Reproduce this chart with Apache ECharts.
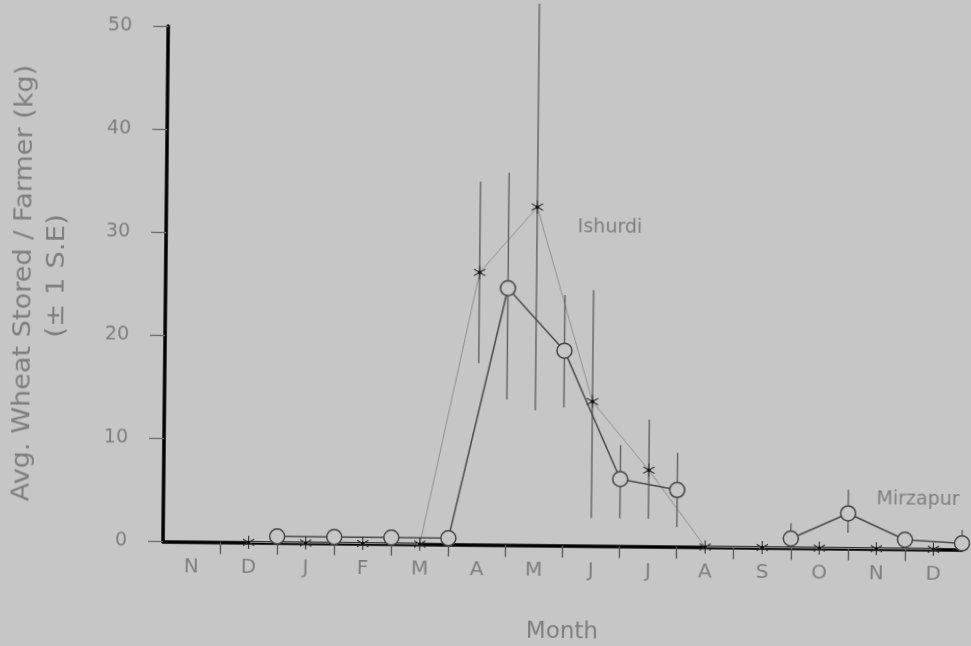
<!DOCTYPE html>
<html>
<head>
<meta charset="utf-8">
<script src="https://cdn.jsdelivr.net/npm/echarts@6/dist/echarts.min.js"></script>
<style>
html,body{margin:0;padding:0;background:#c6c6c6;overflow:hidden;}
#chart{width:971px;height:646px;transform-origin:163px 541.5px;transform:rotate(0.58deg);}
</style>
</head>
<body>
<div id="chart"></div>
<script>
// ---- data ----
const months = ['N','D','J','F','M','A','M','J','J','A','S','O','N','D'];
const yTicks = [0, 10, 20, 30, 40, 50];
// Ishurdi (asterisks) - one value per month, plotted at mid-month
const ishurdiMean = [null, 0, 0, 0, 0, 26.4, 32.8, 14.0, 7.4, 0, 0, 0, 0, 0];
const ishurdiLow  = [null, null, null, null, null, 17.6, 13.1, 2.7, 2.7, null, null, null, null, null];
const ishurdiHigh = [null, null, null, null, null, 35.2, 53.0, 24.8, 12.3, null, null, null, null, null];
// Mirzapur (circles) - values at month boundaries 0..14
const mirzapurMean = [null, null, 0.6, 0.6, 0.6, 0.6, 24.9, 18.9, 6.5, 5.5, null, 0.9, 3.4, 0.9, 0.6];
const mirzapurLow  = [null, null, null, null, null, null, 14.1, 13.4, 2.7, 1.9, null, 0, 1.5, 0, 0];
const mirzapurHigh = [null, null, null, null, null, null, 36.1, 24.3, 9.8, 9.1, null, 2.4, 5.7, 1.6, 1.9];

const BG = '#c6c6c6';
const TXT = '#7e7e7e';
const FONT = 'DejaVu Sans';

// ---- build series data ----
const ishurdiPts = [];
ishurdiMean.forEach((v, i) => { if (v !== null) ishurdiPts.push([i + 0.5, v]); });
const mirzapurPts = mirzapurMean.map((v, i) => [i, v === null ? '-' : v]);
const errBars = [];
ishurdiLow.forEach((lo, i) => { if (lo !== null) errBars.push([i + 0.5, lo, ishurdiHigh[i]]); });
mirzapurLow.forEach((lo, i) => { if (lo !== null) errBars.push([i, lo, mirzapurHigh[i]]); });
const boundaryTicks = months.slice(1).map((m, i) => i + 1);

// place text so that after the slight page rotation it lands where intended
const O = [163, 541.5], TH = 0.58 * Math.PI / 180;
function place(x, y) {
  const dx = x - O[0], dy = y - O[1];
  return [O[0] + Math.cos(TH) * dx + Math.sin(TH) * dy, O[1] - Math.sin(TH) * dx + Math.cos(TH) * dy];
}
function txt(text, x, y, size, rot, sx) {
  const p = place(x, y);
  return {
    type: 'text', x: p[0], y: p[1], rotation: rot || 0, scaleX: sx || 1, scaleY: 1,
    style: { text: text, fill: TXT, font: size + 'px "' + FONT + '"', align: 'center', verticalAlign: 'middle' }
  };
}

const chart = echarts.init(document.getElementById('chart'), null, { renderer: 'canvas' });
chart.setOption({
  backgroundColor: BG,
  animation: false,
  grid: { left: 163, right: 9, top: 26, bottom: 104.5, outerBoundsMode: 'none' },
  xAxis: [
    {
      type: 'value', min: 0, max: months.length, interval: 1,
      axisLine: { show: true, onZero: false, lineStyle: { color: '#000', width: 3.5 } },
      axisTick: { show: true, inside: false, length: 12, customValues: boundaryTicks, lineStyle: { color: '#555', width: 1.3 } },
      axisLabel: { show: false },
      splitLine: { show: false }
    },
    {
      type: 'category', data: months, boundaryGap: true, position: 'bottom',
      axisLine: { show: false }, axisTick: { show: false }, splitLine: { show: false },
      axisLabel: { color: TXT, fontFamily: FONT, fontSize: 20, margin: 15 }
    }
  ],
  yAxis: {
    type: 'value', min: yTicks[0], max: yTicks[yTicks.length - 1], interval: 10,
    axisLine: { show: true, lineStyle: { color: '#000', width: 3.5 } },
    axisTick: { show: true, inside: false, length: 15, lineStyle: { color: '#6a6a6a', width: 1.3 } },
    axisLabel: { color: TXT, fontFamily: FONT, fontSize: 19, margin: 36 },
    splitLine: { show: false }
  },
  series: [
    {
      name: 'Ishurdi', type: 'line', data: ishurdiPts, showSymbol: false, symbol: 'none',
      lineStyle: { color: '#8e8e8e', width: 1 }, z: 2
    },
    {
      name: 'ErrorBars', type: 'custom', data: errBars, clip: false, z: 3,
      encode: { x: 0, y: [1, 2] },
      renderItem: function (params, api) {
        const x = api.value(0);
        const a = api.coord([x, api.value(1)]), b = api.coord([x, api.value(2)]);
        return { type: 'line', shape: { x1: a[0], y1: a[1], x2: b[0], y2: b[1] },
          style: { stroke: '#5a5a5a', lineWidth: 1.3 } };
      }
    },
    {
      name: 'Mirzapur', type: 'line', data: mirzapurPts, connectNulls: false,
      symbol: 'circle', symbolSize: 15, showSymbol: true,
      itemStyle: { color: BG, borderColor: '#444', borderWidth: 1.5 },
      lineStyle: { color: '#4a4a4a', width: 1.5 }, z: 4
    },
    {
      name: 'IshurdiMarks', type: 'custom', data: ishurdiPts, clip: false, z: 5,
      encode: { x: 0, y: 1 },
      renderItem: function (params, api) {
        const c = api.coord([api.value(0), api.value(1)]);
        const r = 6.5, cx = r * Math.cos(Math.PI / 6), sy = r * Math.sin(Math.PI / 6);
        const st = { stroke: '#333', lineWidth: 1.1 };
        return { type: 'group', children: [
          { type: 'line', shape: { x1: c[0], y1: c[1] - r, x2: c[0], y2: c[1] + r }, style: st },
          { type: 'line', shape: { x1: c[0] - cx, y1: c[1] - sy, x2: c[0] + cx, y2: c[1] + sy }, style: st },
          { type: 'line', shape: { x1: c[0] - cx, y1: c[1] + sy, x2: c[0] + cx, y2: c[1] - sy }, style: st },
          { type: 'circle', shape: { cx: c[0], cy: c[1], r: 1.8 }, style: { fill: '#111' } }
        ] };
      }
    }
  ],
  graphic: [
    txt('Avg. Wheat Stored / Farmer (kg)', 24, 283, 24, Math.PI / 2, 1.13),
    txt('(± 1 S.E)', 57, 276, 24, Math.PI / 2, 1.15),
    txt('Ishurdi', 610, 228, 19),
    txt('Mirzapur', 918, 500, 19),
    txt('Month', 562, 632, 23)
  ]
});
</script>
</body>
</html>
